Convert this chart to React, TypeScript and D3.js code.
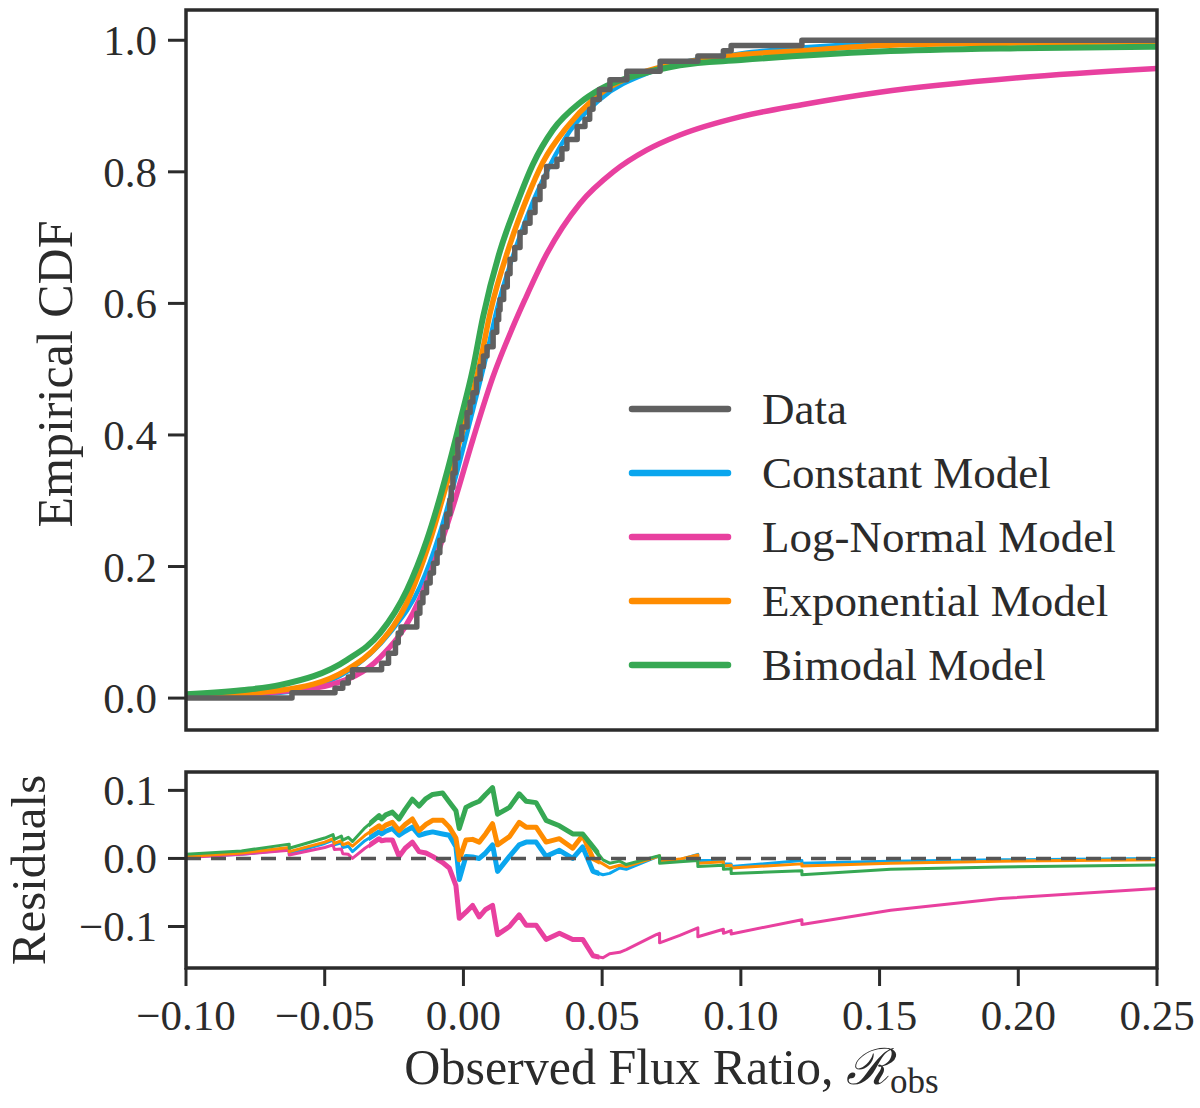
import React from "react";
import * as d3 from "d3";

// ---------- data ----------
const X_TICKS = [-0.1, -0.05, 0.0, 0.05, 0.1, 0.15, 0.2, 0.25];
const CDF_TICKS = [0.0, 0.2, 0.4, 0.6, 0.8, 1.0];
const RESID_TICKS = [-0.1, 0.0, 0.1];

const SERIES_NAMES = ["Data", "Constant Model", "Log-Normal Model", "Exponential Model", "Bimodal Model"];
const SERIES_COLORS = ["#606060", "#0aa6ee", "#e8409f", "#ff8c00", "#36a853"];

// empirical CDF (value after each step)
const dataX = [-0.1, -0.0618, -0.0463, -0.0435, -0.0415, -0.04, -0.0295, -0.027, -0.0245, -0.0235, -0.0225,
  -0.0168, -0.0157, -0.0146, -0.0133, -0.012, -0.0108, -0.0095, -0.0085, -0.0074, -0.006, -0.0049, -0.0044, -0.0038,
  -0.003, -0.002, -0.0006, 0.0013, 0.0024, 0.0034, 0.0047, 0.006, 0.0072, 0.0085, 0.0107, 0.012, 0.0127,
  0.0132, 0.0145, 0.0158, 0.0168, 0.0185, 0.0204, 0.0222, 0.024, 0.0258, 0.0276, 0.029, 0.03, 0.0337, 0.0355,
  0.0373, 0.041, 0.0438, 0.0455, 0.0467, 0.049, 0.0528, 0.0589, 0.0709, 0.0845, 0.0937, 0.0965, 0.122, 0.25];
const dataY = [0.0, 0.008, 0.015, 0.023, 0.032, 0.043, 0.053, 0.068, 0.084, 0.099, 0.108,
  0.129, 0.145, 0.16, 0.175, 0.19, 0.205, 0.221, 0.24, 0.26, 0.28, 0.301, 0.32, 0.342,
  0.365, 0.393, 0.412, 0.434, 0.45, 0.464, 0.485, 0.504, 0.52, 0.534, 0.556, 0.575, 0.59,
  0.606, 0.625, 0.645, 0.667, 0.685, 0.708, 0.722, 0.738, 0.758, 0.778, 0.792, 0.808, 0.819, 0.835,
  0.849, 0.869, 0.88, 0.895, 0.91, 0.925, 0.94, 0.953, 0.968, 0.976, 0.984, 0.992, 1.0, 1.0];

const constX = [-0.1, -0.066, -0.042, -0.0265, -0.0157, -0.0085, -0.0024, 0.0023, 0.0077, 0.012, 0.0193, 0.0251, 0.0312, 0.0384, 0.0492, 0.0683, 0.1, 0.122, 0.15, 0.2, 0.25];
const constY = [0.002, 0.008, 0.04, 0.099, 0.169, 0.251, 0.342, 0.419, 0.51, 0.59, 0.69, 0.755, 0.81, 0.862, 0.91, 0.953, 0.98, 0.989, 0.995, 0.998, 0.9995];

const lognX = [-0.1, -0.063, -0.048, -0.03, -0.0182, -0.011, -0.0038, 0.0034, 0.0107, 0.0179, 0.0222, 0.03, 0.042, 0.054, 0.066, 0.078, 0.1, 0.122, 0.15, 0.2, 0.25];
const lognY = [0.002, 0.011, 0.02, 0.062, 0.129, 0.2, 0.291, 0.393, 0.489, 0.565, 0.606, 0.675, 0.752, 0.8, 0.833, 0.856, 0.884, 0.902, 0.921, 0.943, 0.957];

const expoX = [-0.1, -0.066, -0.042, -0.03, -0.0204, -0.012, -0.0049, 0.0006, 0.006, 0.0096, 0.0168, 0.0229, 0.0287, 0.0373, 0.0467, 0.066, 0.078, 0.1, 0.122, 0.15, 0.2, 0.25];
const expoY = [0.003, 0.012, 0.043, 0.084, 0.145, 0.24, 0.342, 0.419, 0.51, 0.585, 0.69, 0.76, 0.815, 0.868, 0.91, 0.953, 0.965, 0.978, 0.984, 0.992, 0.996, 0.998];

const bimoX = [-0.1, -0.08, -0.066, -0.042, -0.03, -0.0204, -0.0132, -0.006, -0.0013, 0.0034, 0.0071, 0.0132, 0.0193, 0.0251, 0.0323, 0.042, 0.049, 0.066, 0.078, 0.1, 0.15, 0.2, 0.25];
const bimoY = [0.006, 0.012, 0.02, 0.058, 0.099, 0.164, 0.24, 0.342, 0.419, 0.5, 0.58, 0.68, 0.752, 0.812, 0.864, 0.905, 0.925, 0.951, 0.962, 0.97, 0.983, 0.988, 0.99];

// residuals (model - data)
const residX = [-0.1, -0.08, -0.0628, -0.0628, -0.05, -0.047, -0.0465, -0.044, -0.0435, -0.0415, -0.04, -0.0355, -0.0304,
  -0.0295, -0.028, -0.0256, -0.0232, -0.021, -0.0184, -0.016, -0.0135, -0.0111, -0.0075, -0.0051, -0.0027, -0.0015, 0.0009,
  0.0033, 0.0057, 0.008, 0.0105, 0.0123, 0.0166, 0.0201, 0.0226, 0.0262, 0.0298, 0.0346, 0.0394, 0.043, 0.0467, 0.0503,
  0.0527, 0.0563, 0.0587, 0.0695, 0.0707, 0.0707, 0.078, 0.0845, 0.0845, 0.0937, 0.0937, 0.0965, 0.0965, 0.122, 0.122,
  0.154, 0.1935, 0.25];
const residConst = [0.002, 0.006, 0.013, 0.007, 0.022, 0.027, 0.02, 0.023, 0.016, 0.018, 0.01, 0.026, 0.039,
  0.036, 0.04, 0.044, 0.034, 0.04, 0.046, 0.034, 0.037, 0.039, 0.036, 0.034, 0.017, -0.031, 0.003,
  0.002, 0.0, 0.008, 0.02, -0.019, 0.003, 0.02, 0.024, 0.024, 0.003, 0.012, 0.0, 0.017, -0.019, -0.024,
  -0.022, -0.014, -0.016, 0.002, 0.003, -0.005, -0.002, 0.006, -0.003, -0.003, -0.008, -0.008, -0.012, -0.003, -0.007,
  -0.004, -0.002, 0.0];
const residLogn = [0.0015, 0.006, 0.012, 0.005, 0.016, 0.02, 0.013, 0.014, 0.007, 0.006, 0.0, 0.015, 0.029,
  0.026, 0.027, 0.027, 0.003, 0.015, 0.024, 0.01, 0.008, 0.003, -0.006, -0.014, -0.04, -0.088, -0.079,
  -0.069, -0.086, -0.075, -0.069, -0.112, -0.1, -0.083, -0.098, -0.098, -0.119, -0.11, -0.119, -0.119, -0.143, -0.146,
  -0.14, -0.138, -0.134, -0.112, -0.11, -0.124, -0.113, -0.102, -0.115, -0.104, -0.11, -0.106, -0.111, -0.09, -0.097,
  -0.076, -0.059, -0.044];
const residExpo = [0.003, 0.008, 0.016, 0.01, 0.024, 0.029, 0.022, 0.026, 0.02, 0.023, 0.018, 0.034, 0.048,
  0.044, 0.049, 0.053, 0.041, 0.05, 0.058, 0.041, 0.05, 0.056, 0.056, 0.046, 0.03, -0.002, 0.027,
  0.028, 0.024, 0.036, 0.051, 0.02, 0.032, 0.053, 0.046, 0.046, 0.024, 0.029, 0.015, 0.034, 0.0, -0.008,
  -0.014, -0.01, -0.012, 0.002, 0.004, -0.004, -0.001, 0.005, -0.007, -0.005, -0.011, -0.01, -0.014, -0.008, -0.011,
  -0.007, -0.004, -0.002];
const residBimo = [0.006, 0.011, 0.021, 0.015, 0.03, 0.035, 0.028, 0.033, 0.027, 0.031, 0.025, 0.045, 0.063,
  0.058, 0.064, 0.068, 0.058, 0.072, 0.087, 0.077, 0.088, 0.094, 0.096, 0.083, 0.07, 0.044, 0.075,
  0.08, 0.084, 0.094, 0.104, 0.065, 0.075, 0.095, 0.084, 0.082, 0.056, 0.048, 0.036, 0.036, 0.017, -0.002,
  -0.007, -0.004, -0.009, 0.003, 0.004, -0.007, -0.005, -0.003, -0.012, -0.01, -0.016, -0.015, -0.022, -0.018, -0.024,
  -0.016, -0.0125, -0.0096];

// ---------- component ----------
const FONT = "'Liberation Serif', 'Times New Roman', 'DejaVu Serif', serif";
const INK = "#2b2b2b";

const zip = (xs: number[], ys: number[]) => xs.map((v, i) => [v, ys[i]] as [number, number]);

export default function App() {
  const L = 186, R = 1157;
  const topT = 10, topB = 730, botT = 772, botB = 968;
  const x = d3.scaleLinear().domain([-0.1, 0.25]).range([L, R]);
  const yTop = d3.scaleLinear().domain([-0.0485, 1.046]).range([topB, topT]);
  const yRes = d3.scaleLinear().domain([-0.161, 0.127]).range([botB, botT]);

  const smoothTop = d3.line<[number, number]>().x((d) => x(d[0])).y((d) => yTop(d[1])).curve(d3.curveMonotoneX);
  const stepTop = d3.line<[number, number]>().x((d) => x(d[0])).y((d) => yTop(d[1])).curve(d3.curveStepAfter);
  const resLine = d3.line<[number, number]>().x((d) => x(d[0])).y((d) => yRes(d[1])).curve(d3.curveLinear);

  const fmt2 = d3.format(".2f");
  const fmt1 = d3.format(".1f");
  const tickLen = 18;

  const topModels = [
    { xs: constX, ys: constY, c: SERIES_COLORS[1], w: 4.5 },
    { xs: lognX, ys: lognY, c: SERIES_COLORS[2], w: 5.5 },
    { xs: expoX, ys: expoY, c: SERIES_COLORS[3], w: 5.5 },
    { xs: bimoX, ys: bimoY, c: SERIES_COLORS[4], w: 6 },
  ];
  const resSeries = [
    { ys: residConst, c: SERIES_COLORS[1] },
    { ys: residLogn, c: SERIES_COLORS[2] },
    { ys: residExpo, c: SERIES_COLORS[3] },
    { ys: residBimo, c: SERIES_COLORS[4] },
  ];

  return (
    <svg width={1200} height={1108} style={{ position: "absolute", left: 0, top: 0, background: "#fff" }}
      fontFamily={FONT}>
      <defs>
        <clipPath id="clipTop"><rect x={L} y={topT} width={R - L} height={topB - topT} /></clipPath>
        <clipPath id="clipBot"><rect x={L} y={botT} width={R - L} height={botB - botT} /></clipPath>
        <clipPath id="clipDense"><rect x={x(-0.034)} y={botT} width={x(0.049) - x(-0.034)} height={botB - botT} /></clipPath>
      </defs>
      <rect x={0} y={0} width={1200} height={1108} fill="#fff" />

      {/* top panel curves */}
      <g clipPath="url(#clipTop)" fill="none" strokeLinejoin="round">
        {topModels.map((m, i) => (
          <path key={i} d={smoothTop(zip(m.xs, m.ys)) || ""} stroke={m.c} strokeWidth={m.w} />
        ))}
        <path d={stepTop(zip(dataX, dataY)) || ""} stroke={SERIES_COLORS[0]} strokeWidth={5.5} />
      </g>

      {/* bottom panel curves */}
      <g clipPath="url(#clipBot)" fill="none" strokeLinejoin="round">
        {resSeries.map((s, i) => {
          const d = resLine(zip(residX, s.ys)) || "";
          return (
            <g key={i}>
              <path d={d} stroke={s.c} strokeWidth={3} />
              <g clipPath="url(#clipDense)">
                <path d={d} stroke={s.c} strokeWidth={5} />
              </g>
            </g>
          );
        })}
        <line x1={L} x2={R} y1={yRes(0)} y2={yRes(0)} stroke="#555" strokeWidth={3.5} strokeDasharray="15,10" />
      </g>

      {/* frames */}
      <rect x={L} y={topT} width={R - L} height={topB - topT} fill="none" stroke={INK} strokeWidth={3.5} />
      <rect x={L} y={botT} width={R - L} height={botB - botT} fill="none" stroke={INK} strokeWidth={3.5} />

      {/* top y axis */}
      {CDF_TICKS.map((t) => (
        <g key={"ty" + t}>
          <line x1={L - tickLen} x2={L} y1={yTop(t)} y2={yTop(t)} stroke={INK} strokeWidth={3} />
          <text x={L - 29} y={yTop(t) + 15} textAnchor="end" fontSize={43} fill={INK}>{fmt1(t)}</text>
        </g>
      ))}
      {/* bottom y axis */}
      {RESID_TICKS.map((t) => (
        <g key={"ry" + t}>
          <line x1={L - tickLen} x2={L} y1={yRes(t)} y2={yRes(t)} stroke={INK} strokeWidth={3} />
          <text x={L - 29} y={yRes(t) + 15} textAnchor="end" fontSize={43} fill={INK}>{fmt1(t)}</text>
        </g>
      ))}
      {/* x axis */}
      {X_TICKS.map((t) => (
        <g key={"x" + t}>
          <line x1={x(t)} x2={x(t)} y1={botB} y2={botB + tickLen} stroke={INK} strokeWidth={3} />
          <text x={x(t)} y={1030} textAnchor="middle" fontSize={43} fill={INK}>{fmt2(t)}</text>
        </g>
      ))}

      {/* axis labels */}
      <text x={(L + R) / 2} y={1084} textAnchor="middle" fontSize={50} fill={INK}>
        Observed Flux Ratio,{" "}
        <tspan fontFamily="'DejaVu Serif', serif" fontStyle="italic">ℛ</tspan>
        <tspan fontSize={35} dy={9}>obs</tspan>
      </text>
      <text transform={`translate(72, ${(topT + topB) / 2 + 4}) rotate(-90)`} textAnchor="middle" fontSize={50} fill={INK}>
        Empirical CDF
      </text>
      <text transform={`translate(45, ${(botT + botB) / 2}) rotate(-90)`} textAnchor="middle" fontSize={49} fill={INK}>
        Residuals
      </text>

      {/* legend */}
      {SERIES_NAMES.map((name, i) => {
        const ly = 409 + i * 64;
        return (
          <g key={name}>
            <line x1={632} x2={728} y1={ly} y2={ly} stroke={SERIES_COLORS[i]} strokeWidth={6.5} strokeLinecap="round" />
            <text x={762} y={ly + 15} fontSize={45} fill={INK}>{name}</text>
          </g>
        );
      })}
    </svg>
  );
}
